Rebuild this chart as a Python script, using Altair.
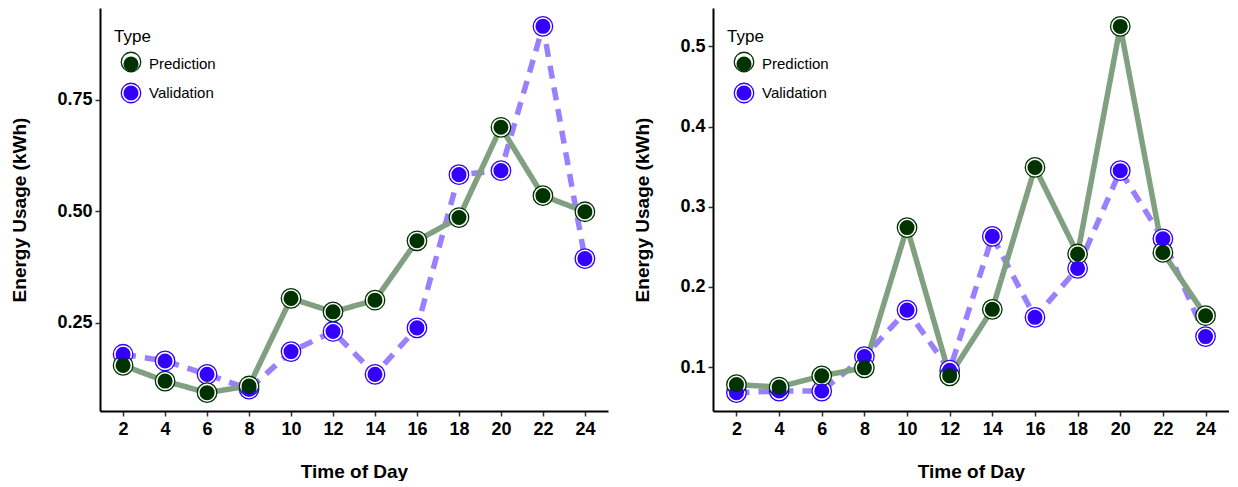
import altair as alt
import pandas as pd

hours = [2, 4, 6, 8, 10, 12, 14, 16, 18, 20, 22, 24]
left_prediction = [0.155, 0.120, 0.094, 0.109, 0.305, 0.275, 0.301, 0.434, 0.486, 0.688, 0.535, 0.499]
left_validation = [0.180, 0.165, 0.135, 0.102, 0.186, 0.231, 0.135, 0.239, 0.582, 0.591, 0.914, 0.394]
right_prediction = [0.078, 0.075, 0.089, 0.099, 0.274, 0.089, 0.172, 0.349, 0.241, 0.525, 0.243, 0.164]
right_validation = [0.068, 0.070, 0.070, 0.113, 0.171, 0.096, 0.263, 0.162, 0.223, 0.345, 0.260, 0.138]

types = ["Prediction", "Validation"]
point_colors = ["#003300", "#3300ff"]
line_colors = ["#819f81", "#9a80ff"]
dashes = [[1, 0], [13, 9]]

left_ticks = [0.25, 0.50, 0.75]
right_ticks = [0.1, 0.2, 0.3, 0.4, 0.5]

FONT = "Liberation Sans"


def make_df(pred, val):
    rows = []
    for h, v in zip(hours, val):
        rows.append({"hour": h, "usage": v, "Type": "Validation", "Ring": "Validation"})
    for h, p in zip(hours, pred):
        rows.append({"hour": h, "usage": p, "Type": "Prediction", "Ring": "Prediction"})
    return pd.DataFrame(rows)


def panel(df, ydomain, yticks, yfmt, width):
    x = alt.X("hour:Q",
              scale=alt.Scale(domain=[0.9, 25.1], nice=False, zero=False),
              axis=alt.Axis(values=hours, title="Time of Day", labelPadding=4, titlePadding=24))
    y = alt.Y("usage:Q",
              scale=alt.Scale(domain=ydomain, nice=False, zero=False),
              axis=alt.Axis(values=yticks, format=yfmt, title="Energy Usage (kWh)",
                            labelPadding=3, titlePadding=27))
    base = alt.Chart(df)
    lines = base.mark_line(strokeWidth=5.5, strokeCap="butt").encode(
        x=x, y=y,
        color=alt.Color("Type:N", sort=types, scale=alt.Scale(range=line_colors), legend=None),
        strokeDash=alt.StrokeDash("Type:N", sort=types, scale=alt.Scale(range=dashes), legend=None),
    )
    rings = base.mark_point(filled=False, fill="white", fillOpacity=1, size=380,
                            strokeWidth=1.3, opacity=1, shape="circle").encode(
        x=x, y=y,
        stroke=alt.Stroke("Ring:N", sort=types, scale=alt.Scale(range=point_colors),
                          legend=alt.Legend(orient="none", legendX=14, legendY=43.5, padding=0,
                                            title=None, labelExpr="''",
                                            symbolType="circle", symbolSize=380,
                                            symbolStrokeWidth=1.3, symbolFillColor="transparent",
                                            symbolOffset=6.5, rowPadding=6, labelOffset=0)),
    )
    inner = base.mark_circle(size=227, opacity=1).encode(
        x=x, y=y,
        fill=alt.Fill("Type:N", sort=types, scale=alt.Scale(range=point_colors),
                      legend=alt.Legend(orient="none", legendX=14, legendY=21, padding=0,
                                        title="Type", symbolType="circle", symbolSize=227,
                                        symbolStrokeWidth=0, symbolOffset=9,
                                        titlePadding=10, rowPadding=13, labelOffset=10)),
    )
    return alt.layer(lines, rings, inner).properties(width=width, height=403)


left = panel(make_df(left_prediction, left_validation), [0.053, 0.955], left_ticks, ".2f", 508)
right = panel(make_df(right_prediction, right_validation), [0.0451, 0.548], right_ticks, ".1f", 516)

chart = alt.hconcat(left, right, spacing=25).resolve_scale(
    color="independent", fill="independent", stroke="independent",
    strokeDash="independent", y="independent", x="independent"
).properties(
    padding={"left": 2, "top": 0, "right": 0, "bottom": 0}
).configure_view(
    strokeOpacity=0
).configure_axis(
    grid=False,
    domainColor="black", domainWidth=2,
    tickColor="#333333", tickWidth=1.5, tickSize=5,
    labelFont=FONT, labelFontSize=18, labelFontWeight="bold", labelColor="black",
    titleFont=FONT, titleFontSize=19, titleFontWeight="bold", titleColor="black",
).configure_legend(
    titleFont=FONT, titleFontSize=17, titleFontWeight="normal", titleColor="black",
    labelFont=FONT, labelFontSize=15, labelColor="black",
)

chart.save("out.html", embed_options={"renderer": "svg", "actions": False})
